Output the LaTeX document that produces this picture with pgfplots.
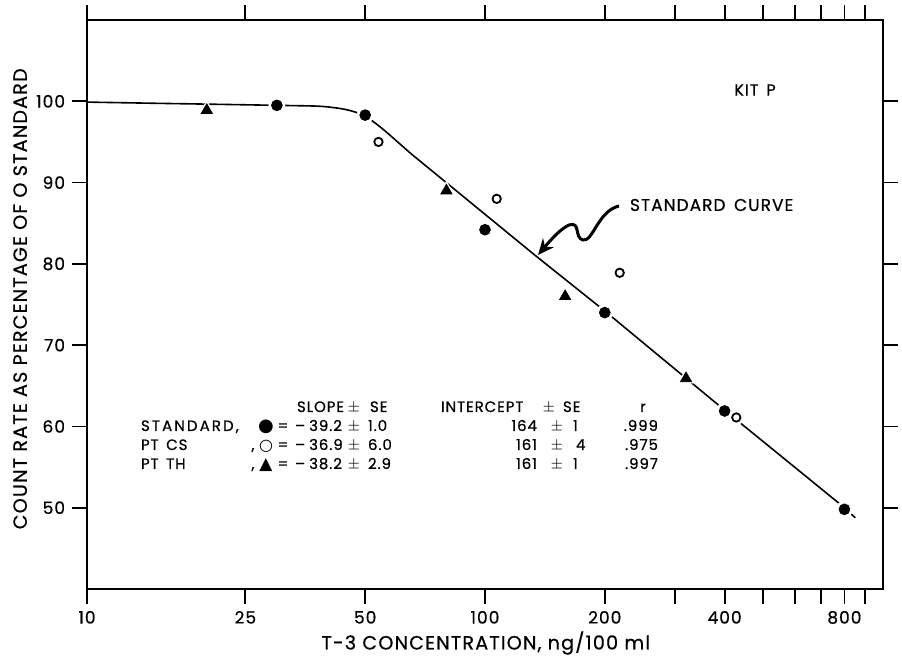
\documentclass[border=0pt]{standalone}
\usepackage{pgfplots}
\pgfplotsset{compat=1.18}
\usepackage{fontspec}
\setmainfont{Poppins}[LetterSpace=6, FakeBold=0.6]
\newfontfamily\sym{DejaVu Sans}
\usetikzlibrary{arrows.meta}

\pgfplotstableread{
x y
30 99.5
50 98.3
100 84.2
200 74.0
400 61.9
800 49.8
}\filled
\pgfplotstableread{
x y
54 95.0
107 88.0
218 78.9
428 61.1
}\opencirc
\pgfplotstableread{
x y
20 98.9
80 89.0
159 76.0
320 65.9
}\tri
\pgfplotstableread{
x y
10 99.9
15 99.75
20 99.65
30 99.5
38 99.4
42 99.2
45 98.95
48 98.55
51 97.9
55 96.7
60 95.1
65 93.6
}\bend
\pgfplotstableread{
x y
65 93.6
134 81.0
200 74.2
400 62.0
800 50.0
}\straight

\begin{document}
\begin{tikzpicture}[font=\fontsize{8}{10}\selectfont]
\begin{axis}[
  at={(0,0)}, anchor=south west,
  scale only axis, width=398pt, height=284.5pt,
  xmode=log, xmin=10, xmax=1000, ymin=40, ymax=110,
  axis line style={line width=1pt},
  tick align=outside, major tick length=7.5pt,
  tick style={line width=0.9pt, black},
  xtick={10,25,50,100,200,300,400,500,600,700,800,900},
  xticklabels={10,25,50,100,200,,400,,,,800,},
  minor xtick={}, minor ytick={},
  ytick={50,60,70,80,90,100},
  /pgf/number format/assume math mode=true,
  xticklabel style={font=\fontsize{8.5}{10}\selectfont},
  yticklabel style={font=\fontsize{8.5}{10}\selectfont},
  xlabel={T-3 CONCENTRATION, ng/100 ml},
  ylabel={COUNT RATE AS PERCENTAGE OF O STANDARD},
  xlabel style={font=\fontsize{9.6}{11}\selectfont, at={(axis description cs:0.501,-0.095)}, anchor=center},
  ylabel style={font=\fontsize{9.6}{11}\selectfont, at={(axis description cs:-0.084,0.51)}, anchor=center},
  clip=false,
]
\addplot[black, line width=0.8pt, smooth, tension=0.5] table {\bend};
\addplot[black, line width=0.8pt] table {\straight};
\addplot[black, line width=0.8pt] coordinates {(815,49.65) (852,48.75)};
% white halos
\addplot[only marks, mark=*, mark size=4pt, white, mark options={draw=white, fill=white}] table {\filled};
\addplot[only marks, mark=*, mark size=3.6pt, white, mark options={draw=white, fill=white}] table {\opencirc};
\addplot[only marks, mark=triangle*, mark size=4.6pt, white, mark options={draw=white, fill=white}] table {\tri};
% marks
\addplot[only marks, mark=*, mark size=2.7pt, black] table {\filled};
\addplot[only marks, mark=o, mark size=2.1pt, black, mark options={line width=0.9pt, fill=white}] table {\opencirc};
\addplot[only marks, mark=triangle*, mark size=3.2pt, black] table {\tri};
\end{axis}
\begin{scope}[shift={(-43.5pt,294.5pt)}, x=0.5pt, y=-0.5pt, every node/.style={inner sep=0pt, outer sep=0pt}]
\node at (755,90) {KIT\enspace P};
\node[anchor=west, font=\fontsize{8.5}{10}\selectfont] at (630,205) {STANDARD\enspace CURVE};
\draw[line width=1.5pt, -{Stealth[length=8pt, width=7pt]}]
  (619,206) .. controls (598,211) and (593,242) .. (583,240)
  .. controls (574,238) and (581,221) .. (569,225)
  .. controls (560,229) and (549,242) .. (538,255);
% table
\begin{scope}[font=\fontsize{7.5}{9}\selectfont]
\node[anchor=base west] at (297,412) {SLOPE};
\node[anchor=base] at (354,412) {$\pm$};
\node[anchor=base west] at (370,412) {SE};
\node[anchor=base west] at (441,412) {INTERCEPT};
\node[anchor=base] at (549,412) {$\pm$};
\node[anchor=base west] at (563,412) {SE};
\node[anchor=base] at (643,412) {r};
% row 1
\node[anchor=base west] at (141,431) {\addfontfeature{LetterSpace=14}STANDARD,};
\node[font=\sym\fontsize{9}{9}\selectfont] at (266,427) {●};
\node[anchor=base] at (283,431) {=};
\node[anchor=base west] at (295,431) {–\kern2pt39.2};
\node[anchor=base] at (354,431) {$\pm$};
\node[anchor=base west] at (368,431) {1.0};
\node[anchor=base east] at (537,431) {164};
\node[anchor=base] at (557,431) {$\pm$};
\node[anchor=base west] at (573,431) {1};
\node[anchor=base east] at (658,431) {.999};
% row 2
\node[anchor=base west] at (141,450) {PT\enspace CS};
\node[anchor=base] at (253,450) {,};
\node[font=\sym\fontsize{8}{8}\selectfont] at (266,446) {○};
\node[anchor=base] at (283,450) {=};
\node[anchor=base west] at (295,450) {–\kern2pt36.9};
\node[anchor=base] at (354,450) {$\pm$};
\node[anchor=base west] at (368,450) {6.0};
\node[anchor=base east] at (537,450) {161};
\node[anchor=base] at (557,450) {$\pm$};
\node[anchor=base west] at (576,450) {4};
\node[anchor=base east] at (658,450) {.975};
% row 3
\node[anchor=base west] at (141,469) {PT\enspace TH};
\node[anchor=base] at (253,469) {,};
\node[font=\sym\fontsize{8.5}{8.5}\selectfont] at (266,465) {▲};
\node[anchor=base] at (283,469) {=};
\node[anchor=base west] at (295,469) {–\kern2pt38.2};
\node[anchor=base] at (354,469) {$\pm$};
\node[anchor=base west] at (368,469) {2.9};
\node[anchor=base east] at (537,469) {161};
\node[anchor=base] at (557,469) {$\pm$};
\node[anchor=base west] at (573,469) {1};
\node[anchor=base east] at (658,469) {.997};
\end{scope}
\pgfresetboundingbox
\path[use as bounding box] (0,0) rectangle (902,657);
\end{scope}
\end{tikzpicture}
\end{document}
